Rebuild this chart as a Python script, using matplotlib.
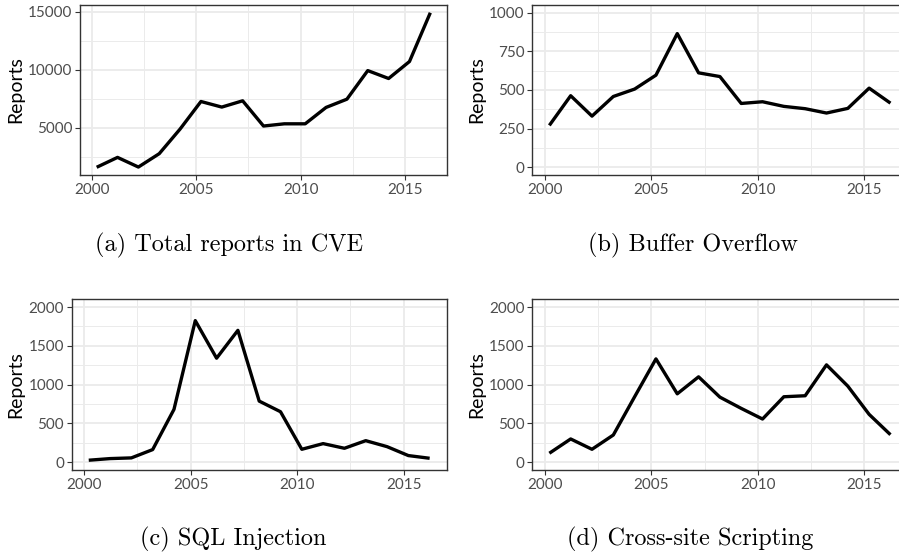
import matplotlib
matplotlib.use("Agg")
import matplotlib.pyplot as plt
from matplotlib.ticker import FixedLocator
import numpy as np

years = list(range(2000, 2017))
total_cve = [1600, 2450, 1620, 2770, 4890, 7260, 6780, 7320, 5150, 5340, 5340, 6750, 7460, 9920, 9240, 10700, 14900]
buffer_overflow = [271, 463, 331, 458, 506, 596, 865, 611, 587, 413, 424, 394, 379, 351, 381, 512, 415]
sql_injection = [26, 47, 56, 163, 681, 1825, 1341, 1700, 788, 651, 167, 240, 180, 278, 201, 86, 51]
xss = [116, 300, 167, 351, 844, 1332, 882, 1101, 839, 694, 557, 844, 857, 1255, 981, 617, 355]

captions = ["(a) Total reports in CVE", "(b) Buffer Overflow",
            "(c) SQL Injection", "(d) Cross-site Scripting"]
ylabel = "Reports"
xticks = [2000, 2005, 2010, 2015]
x_offset = 0.22

W, H = 899, 559
fig = plt.figure(figsize=(W / 100, H / 100), dpi=100)

def box(l, r, t, b):
    return [l / W, 1 - b / H, (r - l) / W, (b - t) / H]

panels = [
    dict(pos=box(80, 447, 5, 175), data=total_cve, ylim=None,
         yticks=[5000, 10000, 15000], yminor=[2500, 7500, 12500]),
    dict(pos=box(532.3, 907.5, 5, 175), data=buffer_overflow, ylim=(0, 1000),
         yticks=[0, 250, 500, 750, 1000], yminor=[125, 375, 625, 875]),
    dict(pos=box(71.7, 446.7, 299.3, 470), data=sql_injection, ylim=(0, 2000),
         yticks=[0, 500, 1000, 1500, 2000], yminor=[250, 750, 1250, 1750]),
    dict(pos=box(532.3, 907.5, 299.3, 470), data=xss, ylim=(0, 2000),
         yticks=[0, 500, 1000, 1500, 2000], yminor=[250, 750, 1250, 1750]),
]

tick_font = "Lato"
x = np.array(years) + x_offset
for p in panels:
    ax = fig.add_axes(p["pos"])
    y = np.array(p["data"], dtype=float)
    xr = x.max() - x.min()
    ax.set_xlim(x.min() - 0.05 * xr, x.max() + 0.05 * xr)
    if p["ylim"] is None:
        lo, hi = y.min(), y.max()
    else:
        lo, hi = p["ylim"]
    yr = hi - lo
    ax.set_ylim(lo - 0.05 * yr, hi + 0.05 * yr)
    ax.xaxis.set_major_locator(FixedLocator(xticks))
    ax.xaxis.set_minor_locator(FixedLocator([2002.5, 2007.5, 2012.5]))
    ax.yaxis.set_major_locator(FixedLocator(p["yticks"]))
    ax.yaxis.set_minor_locator(FixedLocator(p["yminor"]))
    ax.grid(which="major", color="#EBEBEB", linewidth=1.3)
    ax.grid(which="minor", color="#EBEBEB", linewidth=0.7)
    ax.set_axisbelow(True)
    ax.plot(x, y, color="black", linewidth=2.4, solid_capstyle="butt", zorder=3)
    for s in ax.spines.values():
        s.set_color("#333333")
        s.set_linewidth(1.0)
    ax.tick_params(which="major", length=3.5, width=0.8, color="#333333",
                   labelsize=11, labelcolor="#4D4D4D", pad=2)
    ax.tick_params(which="minor", length=0)
    for lab in ax.get_xticklabels() + ax.get_yticklabels():
        lab.set_fontfamily(tick_font)
    ax.set_ylabel(ylabel, fontsize=14, fontfamily=tick_font, color="black", labelpad=3)

cap_pos = [(229, 245), (693, 245), (233, 539), (690, 539)]
for (cx, cy), c in zip(cap_pos, captions):
    fig.text(cx / W, 1 - cy / H, c, ha="center", va="center",
             fontfamily="cmr10", fontsize=17.5)

fig.savefig("out.png", dpi=100)
